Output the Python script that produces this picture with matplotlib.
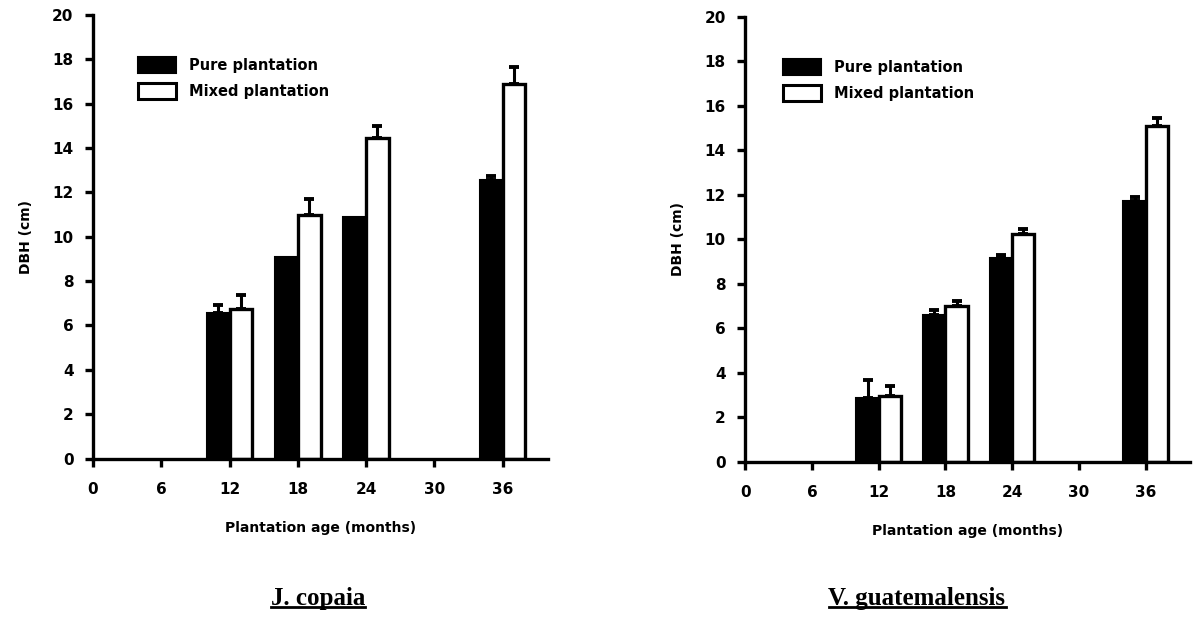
import matplotlib
matplotlib.use("Agg")
import matplotlib.pyplot as plt
from matplotlib.patches import Patch
from matplotlib.lines import Line2D
import numpy as np

# plantation age (months) and DBH (cm) per species
ages = [12, 18, 24, 36]
age_ticks = [0, 6, 12, 18, 24, 30, 36]
dbh_ticks = [0, 2, 4, 6, 8, 10, 12, 14, 16, 18, 20]

copaia_pure = [6.55, 9.1, 10.9, 12.55]
copaia_pure_err = [0.35, 0.0, 0.0, 0.2]
copaia_mixed = [6.75, 11.0, 14.45, 16.9]
copaia_mixed_err = [0.6, 0.7, 0.55, 0.75]

guat_pure = [2.85, 6.6, 9.15, 11.7]
guat_pure_err = [0.8, 0.2, 0.15, 0.2]
guat_mixed = [2.95, 7.0, 10.25, 15.1]
guat_mixed_err = [0.45, 0.2, 0.2, 0.35]

plt.rcParams['font.family'] = ['DejaVu Sans']
plt.rcParams['font.weight'] = 'bold'

fig = plt.figure(figsize=(12.01, 6.18), dpi=100)
ax1 = fig.add_axes([0.0774, 0.258, 0.379, 0.718])
ax2 = fig.add_axes([0.6205, 0.253, 0.3705, 0.720])

BAR_W = 2.0


def draw_panel(ax, pure, pure_err, mixed, mixed_err, legend_x):
    x = np.array(ages, dtype=float)
    ax.bar(x, pure, width=-BAR_W, align='edge', color='black',
           edgecolor='black', linewidth=1.5, zorder=2)
    ax.bar(x, mixed, width=BAR_W, align='edge', color='white',
           edgecolor='black', linewidth=2.4, zorder=2)

    for centers, vals, errs in [(x - BAR_W / 2, pure, pure_err),
                                (x + BAR_W / 2, mixed, mixed_err)]:
        errs = np.array(errs)
        keep = errs > 0
        vals = np.array(vals)[keep]
        ax.errorbar(centers[keep], vals,
                    yerr=[np.zeros(keep.sum()), errs[keep]],
                    fmt='none', ecolor='black', elinewidth=2.2,
                    capsize=3.5, capthick=2.8, zorder=3)

    ax.set_xlim(0, 40)
    ax.set_ylim(0, 20)
    ax.set_xticks(age_ticks)
    ax.set_yticks(dbh_ticks)
    for side in ['top', 'right']:
        ax.spines[side].set_visible(False)
    for side in ['left', 'bottom']:
        ax.spines[side].set_linewidth(2.4)
    ax.tick_params(direction='out', length=6, width=2.4, labelsize=11)
    ax.tick_params(axis='x', pad=11)
    ax.tick_params(axis='y', pad=8)
    ax.set_xlabel('Plantation age (months)', fontsize=10, fontweight='bold',
                  labelpad=17)
    ax.set_ylabel('DBH (cm)', fontsize=10, fontweight='bold', labelpad=14)

    handles = [Patch(facecolor='black', edgecolor='black', linewidth=1.5),
               Patch(facecolor='white', edgecolor='black', linewidth=2.2)]
    ax.legend(handles, ['Pure plantation', 'Mixed plantation'],
              loc='upper left', bbox_to_anchor=(legend_x, 0.905),
              frameon=False, borderpad=0, borderaxespad=0,
              handlelength=2.6, handleheight=1.35, handletextpad=0.9,
              labelspacing=0.65, prop={'size': 10.5, 'weight': 'bold'})


draw_panel(ax1, copaia_pure, copaia_pure_err, copaia_mixed, copaia_mixed_err,
           0.099)
draw_panel(ax2, guat_pure, guat_pure_err, guat_mixed, guat_mixed_err, 0.085)

# species names under each panel, underlined
titles = [fig.text(318 / 1201, 1 - 598 / 618, 'J. copaia', ha='center',
                   va='center', fontsize=18, fontweight='bold',
                   family='Liberation Serif'),
          fig.text(917 / 1201, 1 - 598 / 618, 'V. guatemalensis', ha='center',
                   va='center', fontsize=18, fontweight='bold',
                   family='Liberation Serif')]
fig.canvas.draw()
renderer = fig.canvas.get_renderer()
for t in titles:
    bb = t.get_window_extent(renderer).transformed(fig.transFigure.inverted())
    y = bb.y0 + 0.004
    fig.add_artist(Line2D([bb.x0, bb.x1], [y, y], transform=fig.transFigure,
                          color='black', linewidth=2.0))

fig.savefig('out.png', dpi=100)
